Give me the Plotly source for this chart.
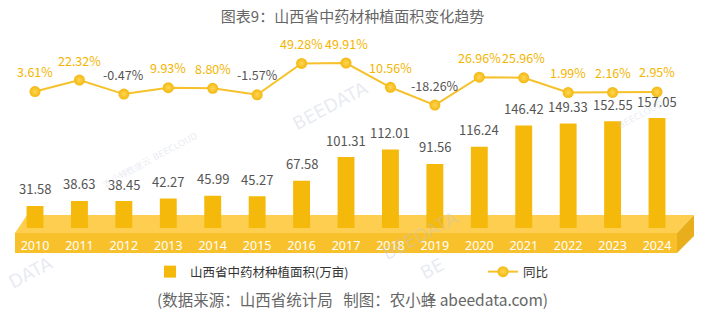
import plotly.graph_objects as go

W, H = 705, 323

years = ["2010", "2011", "2012", "2013", "2014", "2015", "2016", "2017",
         "2018", "2019", "2020", "2021", "2022", "2023", "2024"]
area = [31.58, 38.63, 38.45, 42.27, 45.99, 45.27, 67.58, 101.31,
        112.01, 91.56, 116.24, 146.42, 149.33, 152.55, 157.05]
yoy = [3.61, 22.32, -0.47, 9.93, 8.80, -1.57, 49.28, 49.91,
       10.56, -18.26, 26.96, 25.96, 1.99, 2.16, 2.95]

FONT = "Noto Sans CJK SC, Noto Sans, sans-serif"
GOLD = "#F4B90A"
GRAY = "#555555"


def px_x(p):
    return p / W


def px_y(p):
    return (H - p) / H


fig = go.Figure()

fig.add_trace(go.Bar(
    x=years, y=area, name="山西省中药材种植面积(万亩)",
    marker=dict(color=GOLD, line=dict(width=0)),
    width=0.38, yaxis="y", hoverinfo="skip", legend="legend",
))

fig.add_trace(go.Scatter(
    x=years, y=yoy, name="同比", mode="lines+markers",
    line=dict(color="#F6C12A", width=2),
    marker=dict(size=11, color="#F3B810",
                gradient=dict(type="radial", color="#FFD654"),
                line=dict(width=0)),
    yaxis="y2", hoverinfo="skip", legend="legend2",
))

annotations = []
for i, v in enumerate(area):
    annotations.append(dict(
        x=i, y=v, xref="x", yref="y", text=f"{v:.2f}", showarrow=False,
        yanchor="middle", yshift=17, font=dict(family=FONT, size=13, color=GRAY)))
for i, v in enumerate(yoy):
    annotations.append(dict(
        x=i, y=v, xref="x", yref="y2", text=f"{v:.2f}%", showarrow=False,
        yanchor="middle", yshift=20,
        font=dict(family=FONT, size=12.5, color=("#F4B400" if v >= 0 else GRAY))))

# footer
annotations.append(dict(
    x=0.5, y=px_y(299), xref="paper", yref="paper", showarrow=False,
    text="(数据来源：山西省统计局   制图：农小蜂 abeedata.com)",
    xanchor="center", yanchor="middle",
    font=dict(family=FONT, size=15.5, color="#666666")))

# faint watermarks
for (wx, wy, wt, sz) in [(330, 105, "BEEDATA", 18), (420, 235, "BEEDATA", 18),
                         (30, 272, "DATA", 18), (432, 268, "BE", 18),
                         (150, 160, "农小蜂数据云 BEECLOUD", 9),
                         (640, 115, "BEECLOUD", 9)]:
    annotations.append(dict(
        x=px_x(wx), y=px_y(wy), xref="paper", yref="paper", showarrow=False,
        text=wt, textangle=-28, xanchor="center", yanchor="middle",
        font=dict(family="DejaVu Sans", size=sz, color="rgba(190,195,215,0.35)")))

# 3D base platform (decoration)
shapes = [
    dict(type="path", xref="paper", yref="paper", layer="below",
         path=f"M {px_x(15)},{px_y(233)} L {px_x(677)},{px_y(233)} L {px_x(694)},{px_y(215)} "
              f"L {px_x(27)},{px_y(215)} Z",
         fillcolor="#FDCE50", line=dict(width=0)),
    dict(type="path", xref="paper", yref="paper", layer="below",
         path=f"M {px_x(15)},{px_y(233)} L {px_x(677)},{px_y(233)} L {px_x(677)},{px_y(253)} "
              f"L {px_x(15)},{px_y(253)} Z",
         fillcolor="#F8C12C", line=dict(width=0)),
    dict(type="path", xref="paper", yref="paper", layer="below",
         path=f"M {px_x(677)},{px_y(233)} L {px_x(694)},{px_y(215)} L {px_x(694)},{px_y(236)} "
              f"L {px_x(677)},{px_y(253)} Z",
         fillcolor="#E9AE1C", line=dict(width=0)),
]

# axis geometry
x0, dx = 35, 44.43
xr_lo = x0 - 0.5 * dx
xr_hi = x0 + 14.5 * dx
bar_zero, bar_scale = 228, 0.70
bar_top_px = 110
line_zero, line_scale = 93.8, 0.617
l_top_px, l_bot_px = 50, 120

fig.update_layout(
    width=W, height=H,
    margin=dict(l=0, r=0, t=0, b=0),
    paper_bgcolor="white", plot_bgcolor="rgba(0,0,0,0)",
    font=dict(family=FONT, color=GRAY),
    title=dict(text="图表9：山西省中药材种植面积变化趋势", x=0.5, xanchor="center",
               y=px_y(17), yanchor="middle", yref="paper",
               font=dict(family=FONT, size=15, color="#666666")),
    xaxis=dict(type="category", domain=[px_x(xr_lo), px_x(xr_hi)], range=[-0.5, 14.5],
               showgrid=False, zeroline=False, showline=False, ticks="",
               tickfont=dict(family="Noto Sans", size=12.5, color="white"),
               ticklabelstandoff=8, anchor="y", fixedrange=True),
    yaxis=dict(domain=[px_y(bar_zero), px_y(bar_top_px)],
               range=[0, (bar_zero - bar_top_px) / bar_scale],
               visible=False, showgrid=False, zeroline=False),
    yaxis2=dict(domain=[px_y(l_bot_px), px_y(l_top_px)],
                range=[-(l_bot_px - line_zero) / line_scale, (line_zero - l_top_px) / line_scale],
                visible=False, showgrid=False, zeroline=False, anchor="x"),
    showlegend=True,
    legend=dict(orientation="h", x=px_x(150), xanchor="left", y=px_y(272), yanchor="middle",
                bgcolor="rgba(0,0,0,0)",
                font=dict(family=FONT, size=12.5, color="#333333")),
    legend2=dict(orientation="h", x=px_x(483), xanchor="left", y=px_y(272), yanchor="middle",
                 bgcolor="rgba(0,0,0,0)",
                 font=dict(family=FONT, size=12.5, color="#333333")),
    shapes=shapes,
    annotations=annotations,
)

fig.write_html("out.html")
